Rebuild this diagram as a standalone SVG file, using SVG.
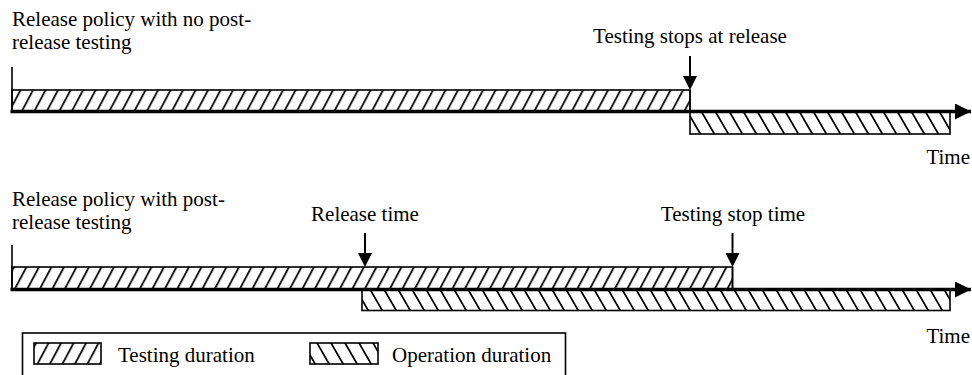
<svg xmlns="http://www.w3.org/2000/svg" width="972" height="375" viewBox="0 0 972 375">
<style>
text{font-family:"Liberation Serif","Times New Roman",serif;font-size:21px;fill:#000}
.bar{stroke:#000;stroke-width:1.6}
.test{fill:url(#hTest)}
.oper{fill:url(#hOper)}
.axis{stroke:#000;stroke-width:3.5;fill:none}
.thin{stroke:#000;stroke-width:1.6;fill:none}
.ptr{stroke:#000;stroke-width:2;fill:none}
</style>
<defs>
<pattern id="hTest" patternUnits="userSpaceOnUse" width="12.5" height="60" patternTransform="skewX(-28)">
<rect width="12.5" height="60" fill="#fff"/>
<line x1="6" y1="0" x2="6" y2="60" stroke="#000" stroke-width="2"/>
</pattern>
<pattern id="hOper" patternUnits="userSpaceOnUse" width="14" height="60" patternTransform="skewX(30)">
<rect width="14" height="60" fill="#fff"/>
<line x1="7" y1="0" x2="7" y2="60" stroke="#000" stroke-width="2"/>
</pattern>
<marker id="axHead" markerUnits="userSpaceOnUse" markerWidth="18" markerHeight="18" refX="16" refY="8" orient="auto">
<path d="M0,0 L16,8 L0,16 Z" fill="#000"/>
</marker>
<marker id="ptrHead" markerUnits="userSpaceOnUse" markerWidth="14" markerHeight="16" refX="7" refY="14" orient="auto-start-reverse">
<path d="M0,0 L7,14 L14,0 Z" fill="#000" transform="rotate(-90 7 7)"/>
</marker>
</defs>

<g id="panel-top">
<text x="12" y="26">Release policy with no post-</text>
<text x="12" y="49">release testing</text>
<g id="top-testing"><rect class="bar test" x="12" y="90" width="678" height="21.5"/></g>
<g id="top-operation"><rect class="bar oper" x="690" y="111.5" width="260" height="22.5"/></g>
<g id="top-release-label"><text x="690" y="43" text-anchor="middle">Testing stops at release</text></g>
<text x="970" y="164" text-anchor="end">Time</text>
</g>

<g id="panel-bottom">
<text x="12" y="206">Release policy with post-</text>
<text x="12" y="229">release testing</text>
<g id="bottom-operation"><rect class="bar oper" x="362" y="289.5" width="588" height="21"/></g>
<g id="bottom-testing"><rect class="bar test" x="12" y="267" width="720.5" height="22.5"/></g>
<g id="release-time-label"><text x="365" y="221" text-anchor="middle">Release time</text></g>
<g id="stop-time-label"><text x="733" y="221" text-anchor="middle">Testing stop time</text></g>
<text x="970" y="343" text-anchor="end">Time</text>
</g>

<g id="connectors">
<line class="thin" x1="12" y1="67" x2="12" y2="112"/>
<line class="axis" x1="10.5" y1="111.5" x2="971" y2="111.5" marker-end="url(#axHead)"/>
<line class="thin" x1="12" y1="245" x2="12" y2="290"/>
<line class="axis" x1="10.5" y1="289.5" x2="971" y2="289.5" marker-end="url(#axHead)"/>
<line class="thin" x1="690" y1="90" x2="690" y2="112"/>
<line class="thin" x1="732.5" y1="267" x2="732.5" y2="290"/>
<line class="ptr" x1="690" y1="56" x2="690" y2="78"/>
<path d="M683,76 L697,76 L690,90 Z" fill="#000"/>
<line class="ptr" x1="365" y1="233" x2="365" y2="255"/>
<path d="M358,253 L372,253 L365,267 Z" fill="#000"/>
<line class="ptr" x1="732.5" y1="233" x2="732.5" y2="255"/>
<path d="M725.5,253 L739.5,253 L732.5,267 Z" fill="#000"/>
</g>

<g id="legend">
<rect class="thin" x="22.5" y="333" width="543" height="44" fill="#fff"/>
<rect class="bar test" x="34" y="343" width="67" height="21"/>
<text x="118" y="362">Testing duration</text>
<rect class="bar oper" x="310" y="343" width="68" height="21"/>
<text x="392" y="362">Operation duration</text>
</g>
</svg>
